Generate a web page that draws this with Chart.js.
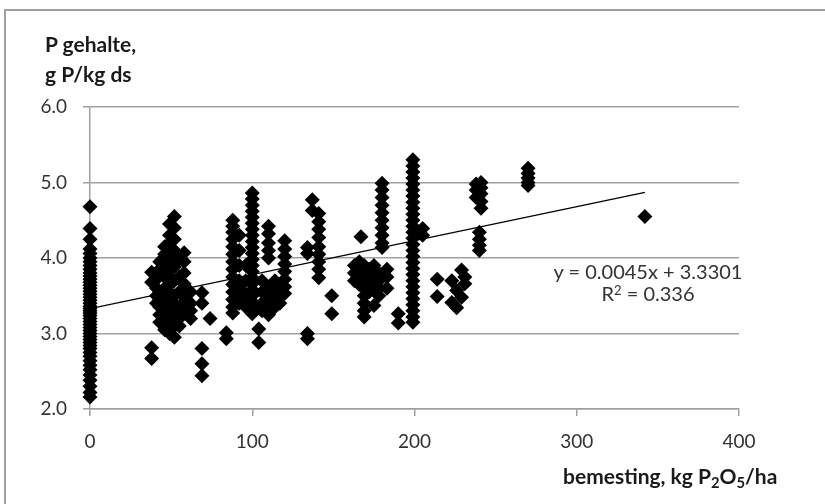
<!DOCTYPE html>
<html>
<head>
<meta charset="utf-8">
<script src="https://cdn.jsdelivr.net/npm/chart.js@4.4.1/dist/chart.umd.min.js"></script>
<style>
  html, body { margin: 0; padding: 0; background: #fff; }
  #wrap { position: relative; width: 825px; height: 504px; overflow: hidden; font-family: Lato, "Open Sans", sans-serif; }
  #frame { position: absolute; left: 4px; top: 9px; right: -10px; bottom: -10px; border-left: 2px solid #a0a0a0; border-top: 2px solid #a0a0a0; }
  canvas { position: absolute; left: 0; top: 0; }
  .lbl { position: absolute; color: #1a1a1a; white-space: nowrap; }
  #ytitle { left: 45px; top: 29px; font-weight: bold; font-size: 21px; line-height: 30px; }
  #xtitle { left: 563px; top: 465px; font-weight: bold; font-size: 21px; line-height: 22px; }
  #xtitle sub { font-size: 0.7em; vertical-align: -0.25em; line-height: 0; }
  #eq { left: 548px; top: 260px; width: 200px; text-align: center; font-size: 20px; line-height: 22px; color: #333; }
  #eq sup { font-size: 0.65em; vertical-align: 0.5em; line-height: 0; }
</style>
</head>
<body>
<div id="wrap">
  <div id="frame"></div>
  <canvas id="chart" width="825" height="504"></canvas>
  <div class="lbl" id="ytitle">P gehalte,<br>g P/kg ds</div>
  <div class="lbl" id="xtitle">bemesting, kg P<sub>2</sub>O<sub>5</sub>/ha</div>
  <div class="lbl" id="eq">y = 0.0045x + 3.3301<br>R<sup>2</sup> = 0.336</div>
</div>
<script>
// fertilisation levels (kg P2O5/ha) and the P contents measured at each level
const groupX = [0, 38, 41, 43, 46, 49, 52, 55, 58, 62, 69, 74, 84, 88, 92, 96, 100, 104, 106, 110, 114, 117, 120,
  134, 137, 141, 149, 163, 166, 167, 169, 172, 175, 178, 180, 183, 190, 199, 205, 214, 223, 226, 229, 231, 238, 241, 240, 270, 342];
const groupY = [
  [4.68, 4.39, 4.25, 4.12, 4.06, 4.0, 3.95, 3.9, 3.85, 3.8, 3.76, 3.72, 3.68, 3.64, 3.6, 3.56, 3.52, 3.48, 3.44, 3.4,
   3.36, 3.33, 3.3, 3.27, 3.24, 3.2, 3.16, 3.12, 3.08, 3.04, 3.0, 2.96, 2.92, 2.88, 2.84, 2.8, 2.75, 2.7, 2.64, 2.58,
   2.52, 2.45, 2.38, 2.3, 2.22, 2.16],
  [3.81, 3.68, 2.81, 2.67],
  [3.72, 3.6, 3.5, 3.4],
  [3.95, 3.85, 3.55, 3.45, 3.35, 3.25, 3.15],
  [4.15, 4.05, 3.9, 3.75, 3.6, 3.5, 3.4, 3.3, 3.2, 3.1, 3.05],
  [4.45, 4.3, 4.2, 4.1, 3.95, 3.85, 3.75, 3.65, 3.55, 3.45, 3.38, 3.3, 3.22, 3.15, 3.08, 3.0],
  [4.55, 4.4, 4.25, 4.1, 3.98, 3.88, 3.7, 3.5, 3.4, 3.3, 3.2, 3.1, 2.95],
  [4.0, 3.75, 3.55, 3.35, 3.2, 3.1],
  [4.07, 3.95, 3.8, 3.66, 3.48, 3.3],
  [3.55, 3.4, 3.3, 3.2],
  [3.54, 3.4, 2.8, 2.6, 2.44],
  [3.2],
  [3.01, 2.93],
  [4.5, 4.42, 4.34, 4.25, 4.15, 4.05, 3.95, 3.85, 3.75, 3.65, 3.55, 3.45, 3.35, 3.27],
  [4.3, 4.1, 3.9, 3.7, 3.6, 3.5, 3.4],
  [3.9, 3.7, 3.5, 3.35],
  [4.86, 4.78, 4.7, 4.62, 4.54, 4.46, 4.38, 4.3, 4.22, 4.14, 4.06, 3.98, 3.9, 3.82, 3.74, 3.66, 3.58, 3.5, 3.42, 3.34, 3.26],
  [3.06, 2.88],
  [3.7, 3.55, 3.4, 3.3],
  [4.42, 4.32, 4.2, 4.1, 4.0, 3.6, 3.5, 3.35, 3.25],
  [3.7, 3.6, 3.45, 3.35],
  [3.65, 3.5, 3.4],
  [4.23, 4.12, 4.02, 3.92, 3.82, 3.72, 3.62, 3.53],
  [4.14, 4.06, 3.0, 2.93],
  [4.77, 4.63],
  [4.59, 4.48, 4.38, 4.27, 4.15, 4.05, 3.95, 3.85, 3.74],
  [3.5, 3.26],
  [3.9, 3.8, 3.7],
  [3.95, 3.85, 3.75, 3.65],
  [4.28],
  [3.9, 3.8, 3.7, 3.6, 3.5, 3.4, 3.3, 3.22],
  [3.85, 3.75, 3.65, 3.55],
  [3.9, 3.8, 3.7, 3.6, 3.37],
  [3.8, 3.7, 3.6, 3.5],
  [4.99, 4.9, 4.8, 4.7, 4.6, 4.5, 4.4, 4.3, 4.2, 4.14],
  [3.85, 3.75, 3.6],
  [3.26, 3.14],
  [5.3, 5.22, 5.14, 5.06, 4.98, 4.9, 4.82, 4.74, 4.66, 4.58, 4.5, 4.42, 4.34, 4.26, 4.18, 4.1, 4.02, 3.94, 3.86,
   3.78, 3.7, 3.62, 3.54, 3.46, 3.38, 3.3, 3.22, 3.15],
  [4.39, 4.3],
  [3.72, 3.49],
  [3.7, 3.41],
  [3.57, 3.34],
  [3.84, 3.48],
  [3.75, 3.66],
  [4.98, 4.9, 4.8],
  [5.0, 4.93, 4.85, 4.75, 4.66],
  [4.34, 4.25, 4.17, 4.1],
  [5.19, 5.12, 5.06, 5.0, 4.96],
  [4.55]
];
// linear trend line end points (y = 0.0045x + 3.3301)
const trendX = [0, 342];
const trendY = [3.33, 4.87];
const yTickLabels = ['2.0', '3.0', '4.0', '5.0', '6.0'];

const points = [];
groupX.forEach((x, i) => groupY[i].forEach(y => points.push({ x, y })));

const tickFont = { family: 'Lato', size: 19 };

new Chart(document.getElementById('chart'), {
  type: 'scatter',
  data: {
    datasets: [
      { data: points, pointStyle: 'rectRot', pointRadius: 7.5, backgroundColor: '#000', borderWidth: 0, clip: false },
      { data: trendX.map((x, i) => ({ x, y: trendY[i] })), showLine: true, borderColor: '#000', borderWidth: 1.2, pointRadius: 0 }
    ]
  },
  options: {
    responsive: false, animation: false, events: [],
    layout: { padding: { top: 107, right: 86, left: 0, bottom: 0 } },
    plugins: { legend: { display: false }, tooltip: { enabled: false } },
    scales: {
      x: {
        type: 'linear', min: 0, max: 400,
        ticks: { stepSize: 100, font: tickFont, color: '#333', padding: 14 },
        grid: { drawOnChartArea: false, tickLength: 7, color: '#a0a0a0', lineWidth: 1.5 },
        border: { color: '#a0a0a0', width: 1.5 },
        afterFit(s) { s.height = 95; }
      },
      y: {
        min: 2, max: 6,
        ticks: { stepSize: 1, font: tickFont, color: '#333', padding: 16, callback: (v) => yTickLabels[v - 2] },
        grid: { tickLength: 7, color: '#a0a0a0', lineWidth: 1.5 },
        border: { color: '#a0a0a0', width: 1.5 },
        afterFit(s) { s.width = 90; }
      }
    }
  }
});
</script>
</body>
</html>
